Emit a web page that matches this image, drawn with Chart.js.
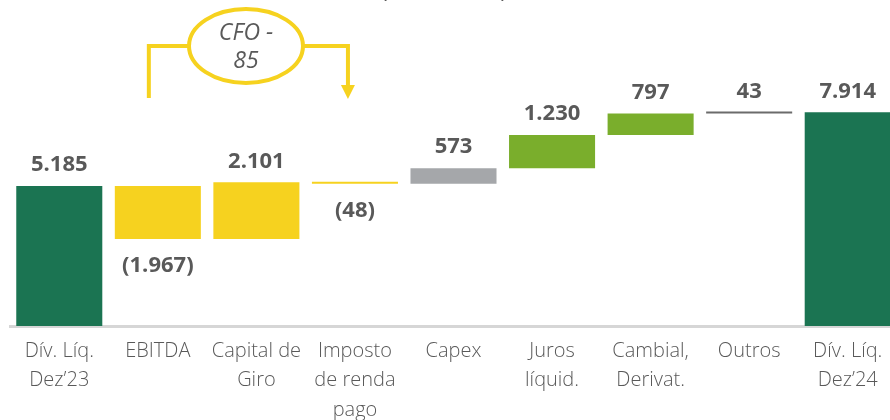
<!DOCTYPE html>
<html>
<head>
<meta charset="utf-8">
<script src="https://cdn.jsdelivr.net/npm/chart.js@4"></script>
<style>
  html, body { margin: 0; padding: 0; overflow: hidden; background: #fff; }
  #wrap { position: relative; width: 897px; height: 420px; }
</style>
</head>
<body>
<div id="wrap"><canvas id="grafico"></canvas></div>
<script>
// ================= DADOS =================
const categorias = [
  ['Dív. Líq.', 'Dez’23'],
  ['EBITDA'],
  ['Capital de', 'Giro'],
  ['Imposto', 'de renda', 'pago'],
  ['Capex'],
  ['Juros', 'líquid.'],
  ['Cambial,', 'Derivat.'],
  ['Outros'],
  ['Dív. Líq.', 'Dez’24']
];
const valores = [5185, -1967, 2101, -48, 573, 1230, 797, 43, 7914];
const totais = [true, false, false, false, false, false, false, false, true];
const cfo = 85;

const cores = ['#1B7452', '#F6D21F', '#F6D21F', '#F6D21F', '#A5A7AA', '#7AAE2C', '#7AAE2C', '#6B6B6B', '#1B7452'];
const cinzaTexto = '#595959';

// Monta os intervalos flutuantes da cascata
let acumulado = 0;
const intervalos = valores.map((v, i) => {
  if (totais[i]) { acumulado = v; return [0, v]; }
  const ini = acumulado;
  acumulado += v;
  return [ini, acumulado];
});

function formatar(v) {
  const s = Math.abs(v).toString().replace(/\B(?=(\d{3})+(?!\d))/g, '.');
  return v < 0 ? '(' + s + ')' : s;
}

// Rótulos de valor em cima / embaixo das barras
const rotulos = {
  id: 'rotulos',
  afterDatasetsDraw(chart) {
    const ctx = chart.ctx;
    const meta = chart.getDatasetMeta(0);
    ctx.save();
    ctx.font = 'bold 22px "Open Sans"';
    ctx.fillStyle = cinzaTexto;
    ctx.textAlign = 'center';
    ctx.textBaseline = 'middle';
    meta.data.forEach((bar, i) => {
      const v = valores[i];
      const y = chart.scales.y;
      const topo = y.getPixelForValue(Math.max(...intervalos[i]));
      const base = y.getPixelForValue(Math.min(...intervalos[i]));
      if (v < 0) ctx.fillText(formatar(v), bar.x, base + 27);
      else ctx.fillText(formatar(v), bar.x, topo - 21);
    });
    ctx.restore();
  }
};

// Chave do CFO sobre EBITDA / Capital de Giro / Imposto
const chaveCfo = {
  id: 'chaveCfo',
  afterDraw(chart) {
    const ctx = chart.ctx;
    const x = chart.scales.x;
    const xe = x.getPixelForValue(1) - 9;
    const xd = x.getPixelForValue(3) - 7;
    const cx = 246, cy = 46, rx = 57, ry = 37;
    ctx.save();
    ctx.strokeStyle = '#F6D21F';
    ctx.fillStyle = '#F6D21F';
    ctx.lineWidth = 4;
    ctx.beginPath();
    ctx.moveTo(xe, 98);
    ctx.lineTo(xe, 46);
    ctx.lineTo(cx - rx, 46);
    ctx.moveTo(cx + rx, 46);
    ctx.lineTo(xd, 46);
    ctx.lineTo(xd, 86);
    ctx.stroke();
    ctx.beginPath();
    ctx.ellipse(cx, cy, rx, ry, 0, 0, Math.PI * 2);
    ctx.stroke();
    ctx.beginPath();
    ctx.moveTo(xd - 7, 85);
    ctx.lineTo(xd + 7, 85);
    ctx.lineTo(xd, 99);
    ctx.closePath();
    ctx.fill();

    ctx.fillStyle = cinzaTexto;
    ctx.font = 'italic 23px "Open Sans"';
    ctx.textAlign = 'center';
    ctx.textBaseline = 'middle';
    ctx.fillText('CFO -', cx, 33);
    ctx.fillText(String(cfo), cx, 61);

    // unidade no topo
    ctx.font = '22px "Open Sans"';
    ctx.textBaseline = 'alphabetic';
    ctx.fillText('(R$ milhões)', 444, -2);
    ctx.restore();
  }
};

new Chart(document.getElementById('grafico'), {
  type: 'bar',
  data: {
    labels: categorias,
    datasets: [{
      data: intervalos,
      backgroundColor: cores,
      borderWidth: 0,
      barPercentage: 0.873,
      categoryPercentage: 1,
      minBarLength: 2
    }]
  },
  options: {
    responsive: true,
    maintainAspectRatio: false,
    animation: false,
    layout: { padding: { left: 10, right: 0, top: 0, bottom: 0 } },
    plugins: {
      legend: { display: false },
      tooltip: { enabled: false }
    },
    scales: {
      x: {
        grid: { display: false, drawTicks: false },
        border: { display: true, color: '#D6D6D6', width: 3 },
        ticks: {
          color: cinzaTexto,
          font: { family: '"Open Sans"', size: 20, weight: '300', lineHeight: 1.48 },
          padding: 10,
          autoSkip: false,
          maxRotation: 0,
          minRotation: 0
        },
        afterFit(scale) { scale.height = 94; }
      },
      y: {
        display: false,
        min: 0,
        max: 12070
      }
    }
  },
  plugins: [rotulos, chaveCfo]
});
</script>
</body>
</html>
